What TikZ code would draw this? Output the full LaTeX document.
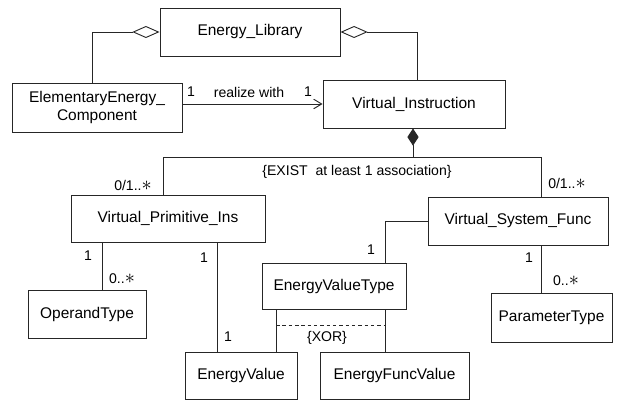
\documentclass[tikz,border=0pt]{standalone}
\usepackage{fontspec}
\setmainfont{Liberation Sans}
\usetikzlibrary{positioning, arrows.meta}

\newcommand{\many}{{\fontsize{15}{15}\selectfont$\ast$}}

\begin{document}
\begin{tikzpicture}[
                x=0.025cm, y=-0.025cm,
                cls/.style={rectangle, draw=black!85, line width=0.65pt, minimum height=1.2cm, inner sep=0pt, align=center, font=\fontsize{11}{13}\selectfont},
                link/.style={draw=black!85, line width=0.65pt},
                aggr/.style={link, {Diamond[open, length=0.68cm, width=0.3cm]}-},
                comp/.style={link, {Diamond[length=0.43cm, width=0.28cm]}-},
                arrow/.style={link, -{Straight Barb[length=0.2cm, width=0.24cm]}},
                mult/.style={font=\fontsize{10}{12}\selectfont, inner sep=1pt}
            ]
            \useasboundingbox (0,0) rectangle (624,400);

            \node[cls, minimum width=4.5cm] (lib) at (250,32) {Energy\_Library};
            \node[cls, minimum width=4.25cm, minimum height=1.225cm] (eec) at (97,107.5) {ElementaryEnergy\_\\Component};
            \node[cls, minimum width=4.55cm] (vi) at (414,104) {Virtual\_Instruction};
            \node[cls, minimum width=4.85cm, minimum height=1.175cm] (vpi) at (168,218.5) {Virtual\_Primitive\_Ins};
            \node[cls, minimum width=4.5cm] (vsf) at (518,221) {Virtual\_System\_Func};
            \node[cls, minimum width=2.95cm] (opt) at (87,314) {OperandType};
            \node[cls, minimum width=3.6cm, minimum height=1.15cm] (evt) at (334,286) {EnergyValueType};
            \node[cls, minimum width=3.025cm, minimum height=1.225cm] (pt) at (551.5,317.5) {ParameterType};
            \node[cls, minimum width=2.8cm, minimum height=1.175cm] (ev) at (241,375.5) {EnergyValue};
            \node[cls, minimum width=3.725cm, minimum height=1.175cm] (efv) at (394.5,375.5) {EnergyFuncValue};

            \coordinate (bar) at (413,157);
            \coordinate (barL) at (163,157);
            \coordinate (barR) at (541,157);
            \coordinate (xorL) at (276,325);
            \coordinate (xorR) at (385,325);

            \draw[aggr] (lib.west) -| (eec.north -| 92,0);
            \draw[aggr] (lib.east) -| (vi.north -| 417,0);
            \draw[arrow] (eec.east |- vi.west) -- (vi.west);
            \draw[comp] (vi.south -| bar) -- (bar);
            \draw[link] (vpi.north -| barL) -- (barL) -- (barR) -- (vsf.north -| barR);
            \draw[link] (vpi.south -| 102,0) -- (opt.north -| 102,0);
            \draw[link] (vpi.south -| 217,0) -- (ev.north -| 217,0);
            \draw[link] (vsf.west) -| (evt.north -| xorR);
            \draw[link] (vsf.south -| barR) -- (pt.north -| barR);
            \draw[link] (evt.south -| xorL) -- (ev.north -| xorL);
            \draw[link] (evt.south -| xorR) -- (efv.north -| xorR);
            \draw[link, dash pattern=on 2.5pt off 2pt] (xorL) -- (xorR);

            % multiplicities and constraints
            \node[mult] (m1) at (191,92) {1};
            \node[mult] (realize) at (249,92) {realize with};
            \node[mult] (m2) at (308,92) {1};
            \node[mult] (exist) at (357,172) {\{EXIST~ at least 1 association\}};
            \node[mult] (m3) at (133,185) {0/1..\many};
            \node[mult] (m4) at (567,183) {0/1..\many};
            \node[mult] (m5) at (88,256) {1};
            \node[mult] (m6) at (122,279) {0..\many};
            \node[mult] (m7) at (204,258) {1};
            \node[mult] (m8) at (228,337) {1};
            \node[mult] (m9) at (371,250) {1};
            \node[mult] (m10) at (529,258) {1};
            \node[mult] (m11) at (566,281) {0..\many};
            \node[mult] (xor) at (327,338) {\{XOR\}};
        \end{tikzpicture}
\end{document}
